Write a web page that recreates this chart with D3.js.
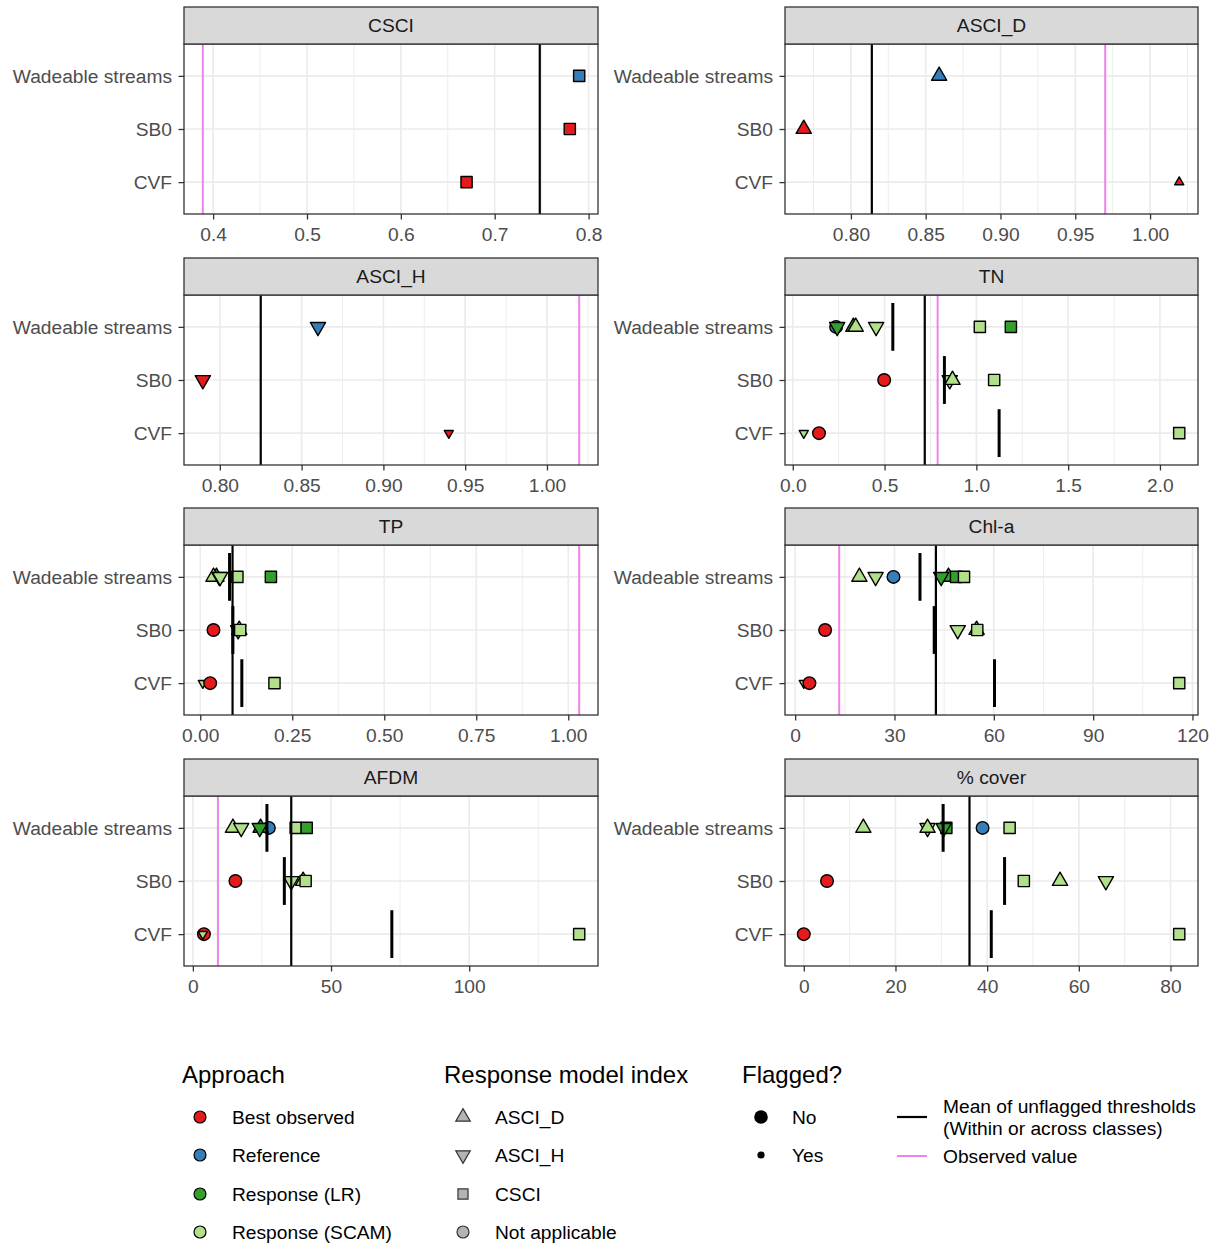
<!DOCTYPE html>
<html><head><meta charset="utf-8">
<script src="https://cdn.jsdelivr.net/npm/d3@7"></script>
<style>
body{margin:0;background:#fff}
text{font-family:"Liberation Sans",Arial,Helvetica,sans-serif}
</style>
</head><body>
<svg id="chart" width="1215" height="1245"></svg>
<script>
// ---------------- DATA ----------------
const panelNames = ["CSCI","ASCI_D","ASCI_H","TN","TP","Chl-a","AFDM","% cover"];
const classNames = ["Wadeable streams","SB0","CVF"];
const approachNames = ["Best observed","Reference","Response (LR)","Response (SCAM)"];
const indexNames = ["ASCI_D","ASCI_H","CSCI","Not applicable"];
const flagNames = ["No","Yes"];

const observedValues = [0.389, 0.970, 1.0197, 0.789, 1.0297, 13.3, 9.06, null];
const overallMeans   = [0.748, 0.814, 0.825, 0.719, 0.0878, 42.5, 35.6, 36.15];

const xTickValues = [
  [0.4,0.5,0.6,0.7,0.8],
  [0.80,0.85,0.90,0.95,1.00],
  [0.80,0.85,0.90,0.95,1.00],
  [0,0.5,1.0,1.5,2.0],
  [0,0.25,0.50,0.75,1.00],
  [0,30,60,90,120],
  [0,50,100],
  [0,20,40,60,80]
];
const xTickLabels = [
  ["0.4","0.5","0.6","0.7","0.8"],
  ["0.80","0.85","0.90","0.95","1.00"],
  ["0.80","0.85","0.90","0.95","1.00"],
  ["0.0","0.5","1.0","1.5","2.0"],
  ["0.00","0.25","0.50","0.75","1.00"],
  ["0","30","60","90","120"],
  ["0","50","100"],
  ["0","20","40","60","80"]
];

// [class, approach, index, flagged, value]
const csciPoints = [
  ["Wadeable streams","Reference","CSCI","No",0.790],
  ["SB0","Best observed","CSCI","No",0.780],
  ["CVF","Best observed","CSCI","No",0.670]
];
const asciDPoints = [
  ["Wadeable streams","Reference","ASCI_D","No",0.859],
  ["SB0","Best observed","ASCI_D","No",0.7685],
  ["CVF","Best observed","ASCI_D","Yes",1.0195]
];
const asciHPoints = [
  ["Wadeable streams","Reference","ASCI_H","No",0.860],
  ["SB0","Best observed","ASCI_H","No",0.7896],
  ["CVF","Best observed","ASCI_H","Yes",0.940]
];
const tnPoints = [
  ["Wadeable streams","Reference","Not applicable","No",0.236],
  ["Wadeable streams","Response (LR)","ASCI_H","No",0.242],
  ["Wadeable streams","Response (LR)","ASCI_D","No",0.330],
  ["Wadeable streams","Response (SCAM)","ASCI_D","No",0.343],
  ["Wadeable streams","Response (SCAM)","ASCI_H","No",0.454],
  ["Wadeable streams","Response (SCAM)","CSCI","No",1.019],
  ["Wadeable streams","Response (LR)","CSCI","No",1.188],
  ["SB0","Best observed","Not applicable","No",0.498],
  ["SB0","Response (SCAM)","ASCI_H","No",0.855],
  ["SB0","Response (SCAM)","ASCI_D","No",0.870],
  ["SB0","Response (SCAM)","CSCI","No",1.097],
  ["CVF","Response (SCAM)","ASCI_H","Yes",0.060],
  ["CVF","Best observed","Not applicable","No",0.143],
  ["CVF","Response (SCAM)","CSCI","No",2.105]
];
const tpPoints = [
  ["Wadeable streams","Response (LR)","ASCI_D","No",0.044],
  ["Wadeable streams","Response (SCAM)","ASCI_D","No",0.036],
  ["Wadeable streams","Response (LR)","ASCI_H","No",0.052],
  ["Wadeable streams","Response (SCAM)","ASCI_H","No",0.054],
  ["Wadeable streams","Response (SCAM)","CSCI","No",0.101],
  ["Wadeable streams","Response (LR)","CSCI","No",0.192],
  ["SB0","Best observed","Not applicable","No",0.036],
  ["SB0","Response (SCAM)","ASCI_H","No",0.103],
  ["SB0","Response (SCAM)","ASCI_D","No",0.106],
  ["SB0","Response (SCAM)","CSCI","No",0.1086],
  ["CVF","Response (SCAM)","ASCI_H","Yes",0.007],
  ["CVF","Best observed","Not applicable","No",0.027],
  ["CVF","Response (SCAM)","CSCI","No",0.2017]
];
const chlaPoints = [
  ["Wadeable streams","Response (SCAM)","ASCI_D","No",19.4],
  ["Wadeable streams","Response (SCAM)","ASCI_H","No",24.3],
  ["Wadeable streams","Reference","Not applicable","No",29.7],
  ["Wadeable streams","Response (LR)","ASCI_D","No",46.3],
  ["Wadeable streams","Response (LR)","ASCI_H","No",44.1],
  ["Wadeable streams","Response (LR)","CSCI","No",48.6],
  ["Wadeable streams","Response (SCAM)","CSCI","No",51.0],
  ["SB0","Best observed","Not applicable","No",9.05],
  ["SB0","Response (SCAM)","ASCI_H","No",49.1],
  ["SB0","Response (SCAM)","ASCI_D","No",54.8],
  ["SB0","Response (SCAM)","CSCI","No",55.0],
  ["CVF","Response (SCAM)","ASCI_H","Yes",2.6],
  ["CVF","Best observed","Not applicable","No",4.3],
  ["CVF","Response (SCAM)","CSCI","No",116.0]
];
const afdmPoints = [
  ["Wadeable streams","Response (SCAM)","ASCI_D","No",14.5],
  ["Wadeable streams","Response (SCAM)","ASCI_H","No",17.5],
  ["Wadeable streams","Reference","Not applicable","No",27.5],
  ["Wadeable streams","Response (LR)","ASCI_D","No",24.5],
  ["Wadeable streams","Response (LR)","ASCI_H","No",24.2],
  ["Wadeable streams","Response (SCAM)","CSCI","No",37.2],
  ["Wadeable streams","Response (LR)","CSCI","No",41.2],
  ["SB0","Best observed","Not applicable","No",15.4],
  ["SB0","Response (SCAM)","ASCI_H","No",35.6],
  ["SB0","Response (SCAM)","ASCI_D","No",39.9],
  ["SB0","Response (SCAM)","CSCI","No",40.8],
  ["CVF","Best observed","Not applicable","No",4.0],
  ["CVF","Response (SCAM)","ASCI_H","Yes",3.6],
  ["CVF","Response (SCAM)","CSCI","No",139.8]
];
const coverPoints = [
  ["Wadeable streams","Response (SCAM)","ASCI_D","No",13.0],
  ["Wadeable streams","Response (SCAM)","ASCI_H","No",27.0],
  ["Wadeable streams","Response (SCAM)","ASCI_D","No",27.0],
  ["Wadeable streams","Response (LR)","CSCI","No",31.1],
  ["Wadeable streams","Response (LR)","ASCI_H","No",30.5],
  ["Wadeable streams","Reference","Not applicable","No",39.0],
  ["Wadeable streams","Response (SCAM)","CSCI","No",44.9],
  ["SB0","Best observed","Not applicable","No",5.07],
  ["SB0","Response (SCAM)","CSCI","No",48.0],
  ["SB0","Response (SCAM)","ASCI_D","No",55.9],
  ["SB0","Response (SCAM)","ASCI_H","No",65.9],
  ["CVF","Best observed","Not applicable","No",0.0],
  ["CVF","Response (SCAM)","CSCI","No",81.9]
];

// [class, mean of unflagged thresholds within class]
const csciClassMeans = [];
const asciDClassMeans = [];
const asciHClassMeans = [];
const tnClassMeans = [["Wadeable streams",0.545],["SB0",0.826],["CVF",1.124]];
const tpClassMeans = [["Wadeable streams",0.0796],["SB0",0.0887],["CVF",0.113]];
const chlaClassMeans = [["Wadeable streams",37.7],["SB0",42.0],["CVF",60.2]];
const afdmClassMeans = [["Wadeable streams",26.8],["SB0",33.1],["CVF",72.0]];
const coverClassMeans = [["Wadeable streams",30.4],["SB0",43.8],["CVF",40.9]];

const pointSets = [csciPoints, asciDPoints, asciHPoints, tnPoints, tpPoints, chlaPoints, afdmPoints, coverPoints];
const classMeanSets = [csciClassMeans, asciDClassMeans, asciHClassMeans, tnClassMeans, tpClassMeans, chlaClassMeans, afdmClassMeans, coverClassMeans];

// ---------------- STYLE ----------------
const approachColor = d3.scaleOrdinal().domain(approachNames)
  .range(["#E41A1C","#377EB8","#33A02C","#B2DF8A"]);
const OBS_COLOR = "#EE82EE";
const GRID = "#EBEBEB";
const BORDER = "#333333";
const AXTXT = "#4D4D4D";

function shapePath(index, flagged, scale){
  const k = (flagged === "Yes" ? 0.6 : 1) * (scale || 1);
  if (index === "CSCI") {
    const s = 11.2 * k / 2;
    return `M${-s},${-s}H${s}V${s}H${-s}Z`;
  }
  if (index === "ASCI_D" || index === "ASCI_H") {
    const s = 15.2 * k, h = s * Math.sqrt(3) / 2, dir = index === "ASCI_D" ? 1 : -1;
    return `M0,${-dir*2*h/3}L${s/2},${dir*h/3}L${-s/2},${dir*h/3}Z`;
  }
  const r = 6.3 * k;
  return d3.symbol(d3.symbolCircle, Math.PI * r * r)();
}

// ---------------- LAYOUT ----------------
const svg = d3.select("#chart");
const colX = [[184, 598], [785, 1198]];
const rowTop = [7, 258, 508, 759];
const stripH = 37, panelH = 170;

panelNames.forEach((name, i) => {
  const col = i % 2, row = Math.floor(i / 2);
  const [x0, x1] = colX[col];
  const st = rowTop[row], pt = st + stripH, pb = pt + panelH;
  const pts = pointSets[i], cms = classMeanSets[i];
  const obs = observedValues[i];

  const allVals = pts.map(d => d[4]).concat(cms.map(d => d[1]), [overallMeans[i]], obs != null ? [obs] : []);
  const [mn, mx] = d3.extent(allVals);
  const pad = (mx - mn) * 0.05;
  const x = d3.scaleLinear().domain([mn - pad, mx + pad]).range([x0, x1]);
  const y = d3.scalePoint().domain(classNames).range([pt, pb]).padding(0.6);
  const [dlo, dhi] = x.domain();

  const g = svg.append("g");

  g.append("rect").attr("x", x0).attr("y", pt).attr("width", x1 - x0).attr("height", panelH).attr("fill", "#fff");

  // minor grid
  const ticks = xTickValues[i];
  const step = ticks[1] - ticks[0];
  const minors = [];
  minors.push(ticks[0] - step / 2);
  for (let j = 0; j < ticks.length - 1; j++) minors.push((ticks[j] + ticks[j + 1]) / 2);
  minors.push(ticks[ticks.length - 1] + step / 2);
  g.selectAll(null).data(minors.filter(v => v > dlo && v < dhi)).join("line")
    .attr("x1", d => x(d)).attr("x2", d => x(d)).attr("y1", pt).attr("y2", pb)
    .attr("stroke", GRID).attr("stroke-width", 0.9);
  // major grid
  g.selectAll(null).data(ticks).join("line")
    .attr("x1", d => x(d)).attr("x2", d => x(d)).attr("y1", pt).attr("y2", pb)
    .attr("stroke", GRID).attr("stroke-width", 1.6);
  g.selectAll(null).data(classNames).join("line")
    .attr("x1", x0).attr("x2", x1).attr("y1", d => y(d)).attr("y2", d => y(d))
    .attr("stroke", GRID).attr("stroke-width", 1.6);

  // points
  g.selectAll(null).data(pts).join("path")
    .attr("transform", d => `translate(${x(d[4])},${y(d[0])})`)
    .attr("d", d => shapePath(d[2], d[3]))
    .attr("fill", d => approachColor(d[1]))
    .attr("stroke", "#000").attr("stroke-width", 1.4).attr("stroke-linejoin", "round");

  if (obs != null) {
    g.append("line").attr("x1", x(obs)).attr("x2", x(obs)).attr("y1", pt).attr("y2", pb)
      .attr("stroke", OBS_COLOR).attr("stroke-width", 2);
  }
  g.append("line").attr("x1", x(overallMeans[i])).attr("x2", x(overallMeans[i])).attr("y1", pt).attr("y2", pb)
    .attr("stroke", "#000").attr("stroke-width", 2.2);
  const half = y.step() * 0.45;
  g.selectAll(null).data(cms).join("line")
    .attr("x1", d => x(d[1])).attr("x2", d => x(d[1]))
    .attr("y1", d => y(d[0]) - half).attr("y2", d => y(d[0]) + half)
    .attr("stroke", "#000").attr("stroke-width", 3);

  g.append("rect").attr("x", x0).attr("y", pt).attr("width", x1 - x0).attr("height", panelH)
    .attr("fill", "none").attr("stroke", BORDER).attr("stroke-width", 1.3);

  g.append("rect").attr("x", x0).attr("y", st).attr("width", x1 - x0).attr("height", stripH)
    .attr("fill", "#D9D9D9").attr("stroke", BORDER).attr("stroke-width", 1.3);
  g.append("text").attr("x", (x0 + x1) / 2).attr("y", st + stripH / 2).attr("dy", "0.35em")
    .attr("text-anchor", "middle").attr("font-size", "19.2px").attr("fill", "#1A1A1A").text(name);

  const xa = g.append("g").attr("transform", `translate(0,${pb})`)
    .call(d3.axisBottom(x).tickValues(ticks).tickFormat((d, j) => xTickLabels[i][j]).tickSize(5.5).tickPadding(7.5));
  const ya = g.append("g").attr("transform", `translate(${x0},0)`)
    .call(d3.axisLeft(y).tickSize(5.5).tickPadding(6.5));
  [xa, ya].forEach(a => {
    a.select(".domain").remove();
    a.selectAll(".tick line").attr("stroke", BORDER).attr("stroke-width", 1.3);
    a.selectAll(".tick text").attr("fill", AXTXT).attr("font-size", "19.2px")
      .attr("font-family", '"Liberation Sans",Arial,Helvetica,sans-serif');
  });
});

// ---------------- LEGEND ----------------
const lg = svg.append("g");
const titleSize = "24px", labSize = "19.2px";
const itemY = [1117, 1155, 1194, 1232];

function legendTitle(x, txt){
  lg.append("text").attr("x", x).attr("y", 1075).attr("dy", "0.35em")
    .attr("font-size", titleSize).attr("fill", "#000").text(txt);
}
function legendLabel(x, y, txt){
  lg.append("text").attr("x", x).attr("y", y).attr("dy", "0.35em")
    .attr("font-size", labSize).attr("fill", "#000").text(txt);
}

legendTitle(182, "Approach");
approachNames.forEach((a, j) => {
  lg.append("path").attr("transform", `translate(200,${itemY[j]})`)
    .attr("d", shapePath("Not applicable", "No", 0.95))
    .attr("fill", approachColor(a)).attr("stroke", "#000").attr("stroke-width", 1.2);
  legendLabel(232, itemY[j], a);
});

legendTitle(444, "Response model index");
indexNames.forEach((s, j) => {
  lg.append("path").attr("transform", `translate(463,${itemY[j]})`)
    .attr("d", shapePath(s, "No", s === "CSCI" ? 0.9 : 0.95))
    .attr("fill", "#B3B3B3").attr("stroke", "#333").attr("stroke-width", 1.2);
  legendLabel(495, itemY[j], s);
});

legendTitle(742, "Flagged?");
flagNames.forEach((f, j) => {
  lg.append("circle").attr("cx", 761).attr("cy", itemY[j]).attr("r", f === "No" ? 6.8 : 3.6).attr("fill", "#000");
  legendLabel(792, itemY[j], f);
});

lg.append("line").attr("x1", 897).attr("x2", 927).attr("y1", 1117).attr("y2", 1117)
  .attr("stroke", "#000").attr("stroke-width", 2.2);
legendLabel(943, 1106, "Mean of unflagged thresholds");
legendLabel(943, 1128, "(Within or across classes)");
lg.append("line").attr("x1", 897).attr("x2", 927).attr("y1", 1156).attr("y2", 1156)
  .attr("stroke", OBS_COLOR).attr("stroke-width", 2);
legendLabel(943, 1156, "Observed value");
</script>
</body></html>
